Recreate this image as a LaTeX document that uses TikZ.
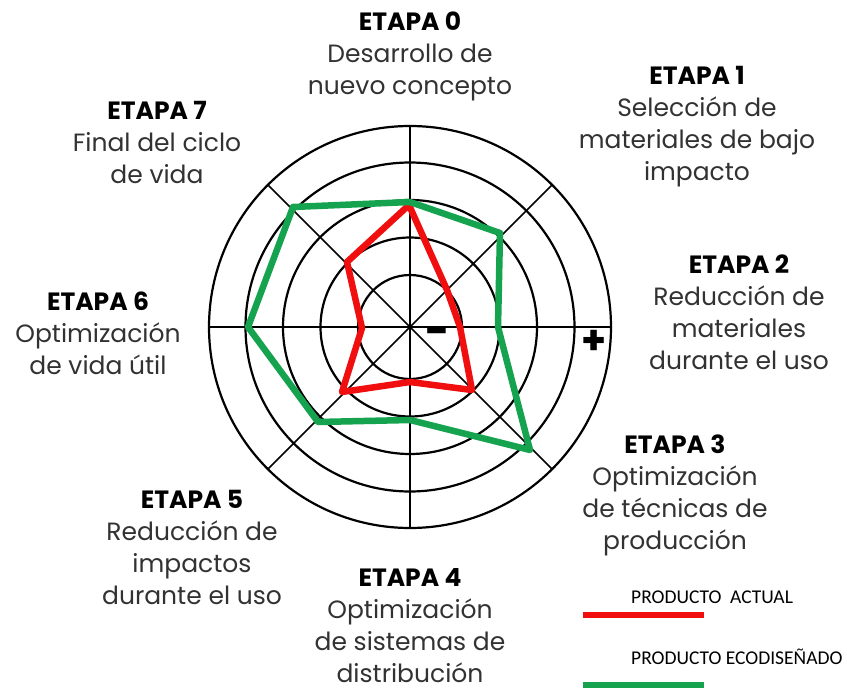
\documentclass[tikz,border=0pt]{standalone}
\usepackage{fontspec}
\setmainfont{Poppins}
\newfontfamily\legendfont{Carlito}
\usetikzlibrary{calc}
\definecolor{redline}{RGB}{240,14,14}
\definecolor{greenline}{RGB}{22,163,80}
\definecolor{bodygray}{RGB}{50,50,50}
\begin{document}
\begin{tikzpicture}[x=1pt,y=-1pt,
  stagelabel/.style={align=center,inner sep=0pt,text=bodygray,
    font=\fontsize{25}{32}\selectfont},
  ring/.style={draw=black,line width=2.2pt},
  spoke/.style={draw=black,line width=1.6pt},
  actual/.style={draw=redline,line width=6.5pt,line join=round},
  eco/.style={draw=greenline,line width=6.5pt,line join=round},
  legendtext/.style={anchor=west,inner sep=0pt,text=black,
    font=\legendfont\fontsize{19.5}{19.5}\selectfont}]
\useasboundingbox (0,0) rectangle (847,688);
\fill[white] (0,0) rectangle (847,688);
\coordinate (c) at (410,327);
% rings
\foreach \r in {52,89.5,127,164.5,201}
  \draw[ring] (c) circle[radius=\r];
% spokes
\foreach \a in {0,45,90,135}
  \draw[spoke] ([shift={(\a:201)}]c) -- ([shift={(\a+180:201)}]c);
% current product
\draw[actual] (409,205) -- (447,290) -- (460,327) -- (472,390) -- (410,382)
  -- (342,392) -- (362,328) -- (347,262) -- cycle;
% eco-designed product
\draw[eco] (410,202) -- (500,233) -- (498,327) -- (530,450) -- (410,420)
  -- (318,422) -- (248,327) -- (293,207) -- cycle;
% minus / plus
\node[inner sep=0pt,font=\bfseries\fontsize{42}{42}\selectfont] (minus) at (438,337) {-};
\node[inner sep=0pt,font=\bfseries\fontsize{40}{40}\selectfont] (plus) at (594,342) {+};
% stage labels
\node[stagelabel] (s0) at (410,56) {\textcolor{black}{\bfseries ETAPA 0}\\Desarrollo de\\nuevo concepto};
\node[stagelabel] (s1) at (697,127) {\textcolor{black}{\bfseries ETAPA 1}\\Selección de\\materiales de bajo\\impacto};
\node[stagelabel] (s2) at (739,312) {\textcolor{black}{\bfseries ETAPA 2}\\Reducción de\\materiales\\durante el uso};
\node[stagelabel] (s3) at (675,495) {\textcolor{black}{\bfseries ETAPA 3}\\Optimización\\de técnicas de\\producción};
\node[stagelabel] (s4) at (410,626) {\textcolor{black}{\bfseries ETAPA 4}\\Optimización\\de sistemas de\\distribución};
\node[stagelabel] (s5) at (192,547) {\textcolor{black}{\bfseries ETAPA 5}\\Reducción de\\impactos\\durante el uso};
\node[stagelabel] (s6) at (98,333) {\textcolor{black}{\bfseries ETAPA 6}\\Optimización\\de vida útil};
\node[stagelabel] (s7) at (157,142) {\textcolor{black}{\bfseries ETAPA 7}\\Final del ciclo\\de vida};
% legend
\node[legendtext] (lgA) at (631,597) {PRODUCTO\ \ ACTUAL};
\coordinate (lgA1) at (583,614.5);
\coordinate (lgA2) at (704,614.5);
\draw[draw=redline,line width=6pt] (lgA1) -- (lgA2);
\node[legendtext] (lgB) at (631,657) {PRODUCTO ECODISEÑADO};
\coordinate (lgB1) at (583,685);
\coordinate (lgB2) at (704,685);
\draw[draw=greenline,line width=7pt] (lgB1) -- (lgB2);
\end{tikzpicture}
\end{document}
